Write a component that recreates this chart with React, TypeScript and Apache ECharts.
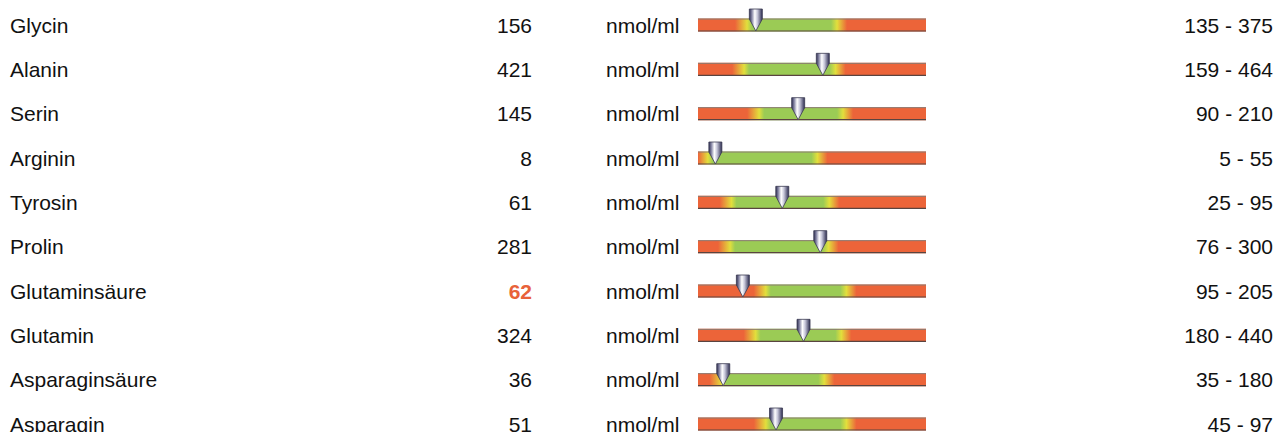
import React, { useEffect, useRef } from "react";
import * as echarts from "echarts";

const names = ["Glycin", "Alanin", "Serin", "Arginin", "Tyrosin", "Prolin", "Glutaminsäure", "Glutamin", "Asparaginsäure", "Asparagin"];
const values = [156, 421, 145, 8, 61, 281, 62, 324, 36, 51];
const lowers = [135, 159, 90, 5, 25, 76, 95, 180, 35, 45];
const uppers = [375, 464, 210, 55, 95, 300, 205, 440, 180, 97];
const unit = "nmol/ml";

const ORANGE = "#EC6439";
const YELLOW = "#E2DF3C";
const GREEN = "#9BCB55";
const FONT_FAMILY = "'Liberation Sans', Arial, sans-serif";

export default function App() {
  const ref = useRef<HTMLDivElement>(null);
  useEffect(() => {
    if (!ref.current) return;
    const chart = echarts.init(ref.current, null, { renderer: "svg" });
    const data = names.map((n, i) => {
      const scaleMax = 2 * uppers[i] - lowers[i];
      return [values[i] / scaleMax, i, lowers[i] / scaleMax, uppers[i] / scaleMax];
    });
    const clamp = (v: number) => Math.max(0, Math.min(1, v));
    const option: any = {
      animation: false,
      grid: { left: 698, right: 347, top: 25, bottom: 8 },
      xAxis: { type: "value", min: 0, max: 1, show: false },
      yAxis: { type: "value", min: 0, max: 9, inverse: true, show: false },
      series: [
        {
          type: "custom",
          data,
          encode: { x: 0, y: 1 },
          renderItem: (params: any, api: any) => {
            const frac = api.value(0);
            const i = api.value(1);
            const lf = api.value(2);
            const uf = api.value(3);
            const start = api.coord([0, i]);
            const end = api.coord([1, i]);
            const mk = api.coord([frac, i]);
            const c = start[1];
            const w = end[0] - start[0];
            const px = (p: number) => p / w;
            const stops = [
              { offset: 0, color: ORANGE },
              { offset: clamp(lf - px(13)), color: ORANGE },
              { offset: clamp(lf - px(1)), color: YELLOW },
              { offset: clamp(lf + px(4)), color: GREEN },
              { offset: clamp(uf - px(6)), color: GREEN },
              { offset: clamp(uf), color: YELLOW },
              { offset: clamp(uf + px(10)), color: ORANGE },
              { offset: 1, color: ORANGE },
            ];
            const v = values[i];
            const out = v < lowers[i] || v > uppers[i];
            const font = `21px ${FONT_FAMILY}`;
            const x = mk[0];
            return {
              type: "group",
              children: [
                {
                  type: "text",
                  style: { text: names[i], x: 10, y: c, fill: "#111", font, align: "left", verticalAlign: "middle" },
                },
                {
                  type: "text",
                  style: {
                    text: String(v),
                    x: 532,
                    y: c,
                    fill: out ? "#E8623A" : "#111",
                    font: out ? `bold ${font}` : font,
                    align: "right",
                    verticalAlign: "middle",
                  },
                },
                {
                  type: "text",
                  style: { text: unit, x: 606, y: c, fill: "#111", font, align: "left", verticalAlign: "middle" },
                },
                {
                  type: "text",
                  style: {
                    text: `${lowers[i]} - ${uppers[i]}`,
                    x: 1273,
                    y: c,
                    fill: "#111",
                    font,
                    align: "right",
                    verticalAlign: "middle",
                  },
                },
                {
                  type: "rect",
                  shape: { x: start[0], y: c - 6.5, width: w, height: 13 },
                  style: {
                    fill: { type: "linear", x: 0, y: 0, x2: 1, y2: 0, colorStops: stops },
                  },
                },
                {
                  type: "line",
                  shape: { x1: start[0], y1: c - 6, x2: end[0], y2: c - 6 },
                  style: { stroke: "#8a7a72", lineWidth: 1 },
                },
                {
                  type: "line",
                  shape: { x1: start[0], y1: c + 6, x2: end[0], y2: c + 6 },
                  style: { stroke: "#5a4440", lineWidth: 1.2 },
                },
                {
                  type: "polygon",
                  shape: {
                    points: [
                      [x - 6.5, c - 16],
                      [x + 6.5, c - 16],
                      [x + 6.5, c - 6],
                      [x, c + 6],
                      [x - 6.5, c - 6],
                    ],
                  },
                  style: {
                    fill: {
                      type: "linear",
                      x: 0,
                      y: 0,
                      x2: 1,
                      y2: 0,
                      colorStops: [
                        { offset: 0, color: "#2e2e52" },
                        { offset: 0.2, color: "#8a8aa8" },
                        { offset: 0.42, color: "#ffffff" },
                        { offset: 0.62, color: "#c8c8da" },
                        { offset: 1, color: "#2c2c50" },
                      ],
                    },
                    stroke: "#3a3a50",
                    lineWidth: 0.8,
                  },
                },
              ],
            };
          },
        },
      ],
    };
    chart.setOption(option);
    return () => chart.dispose();
  }, []);
  return (
    <div
      ref={ref}
      style={{ position: "absolute", left: 0, top: 0, width: 1273, height: 432, background: "#fff" }}
    />
  );
}
